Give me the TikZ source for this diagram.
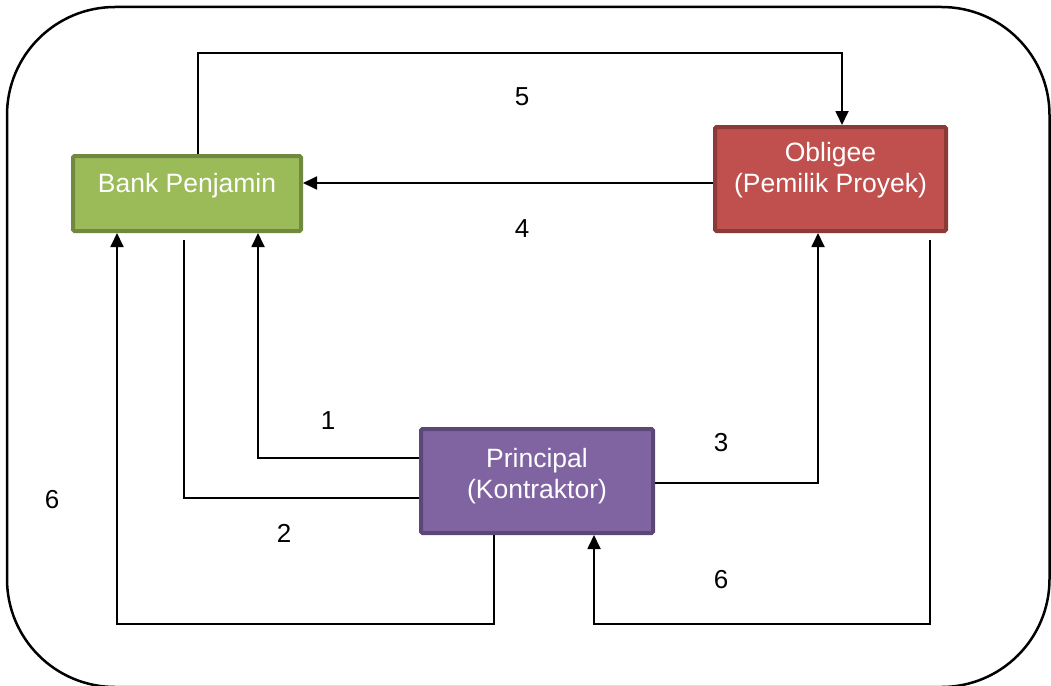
\documentclass[tikz,border=0pt]{standalone}
\usepackage{fontspec}
\setmainfont{Liberation Sans}
\usetikzlibrary{arrows.meta}
\definecolor{bankfill}{HTML}{9BBB59}
\definecolor{bankline}{HTML}{71893F}
\definecolor{oblfill}{HTML}{C0504D}
\definecolor{oblline}{HTML}{8C3A38}
\definecolor{prinfill}{HTML}{8064A2}
\definecolor{prinline}{HTML}{5C4876}
\tikzset{
  party/.style={draw, line width=4pt, rounded corners=1.5pt, inner sep=0pt},
  boxtext/.style={text=white, font=\fontsize{26.5}{31}\selectfont, align=center, inner sep=0pt},
  num/.style={font=\fontsize{26}{30}\selectfont, inner sep=0pt},
  link/.style={line width=1.8pt},
  arr/.style={link, -{Triangle[length=14pt,width=13pt]}}
}
\begin{document}
\begin{tikzpicture}[x=1pt,y=-1pt]
\useasboundingbox (0,0) rectangle (1051,685);
% outer frame
\draw[line width=2.5pt, rounded corners=108pt] (7,7) rectangle (1049.5,687);

% parties
\node[party, fill=bankfill, draw=bankline, minimum width=228pt, minimum height=75pt] (bank) at (187,193.5) {};
\node[party, fill=oblfill, draw=oblline, minimum width=231pt, minimum height=104pt] (obl) at (830.5,179) {};
\node[party, fill=prinfill, draw=prinline, minimum width=232pt, minimum height=104pt] (prin) at (537,481) {};

\node[boxtext] (bankT) at (187,186) {Bank Penjamin};
\node[boxtext] (oblT) at (830.5,170.5) {Obligee\\(Pemilik Proyek)};
\node[boxtext] (prinT) at (537,476) {Principal\\(Kontraktor)};

% routing points
\coordinate (c5) at (198,53);
\coordinate (d5) at (842,53);
\coordinate (c4) at (0,183);
\coordinate (c1) at (258,458);
\coordinate (c2) at (184,498);
\coordinate (c3) at (818,483);
\coordinate (c6a) at (494,624);
\coordinate (c6b) at (117,624);
\coordinate (c6c) at (930,624);
\coordinate (c6d) at (594,624);

% connectors
\draw[arr] (bank.north -| c5) -- (c5) -- (d5) -- (obl.north -| d5);
\draw[arr] (obl.west |- c4) -- (bank.east |- c4);
\draw[arr] (prin.west |- c1) -- (c1) -- (bank.south -| c1);
\draw[link] ([yshift=-7pt]bank.south -| c2) -- (c2) -- (prin.west |- c2);
\draw[arr] (prin.east |- c3) -- (c3) -- (obl.south -| c3);
\draw[arr] (prin.south -| c6a) -- (c6a) -- (c6b) -- (bank.south -| c6b);
\draw[arr] ([yshift=-7pt]obl.south -| c6c) -- (c6c) -- (c6d) -- (prin.south -| c6d);

% step numbers
\node[num] (n5) at (522,97) {5};
\node[num] (n4) at (522,229) {4};
\node[num] (n1) at (328,421) {1};
\node[num] (n2) at (284,533) {2};
\node[num] (n3) at (721,443) {3};
\node[num] (n6a) at (52,500) {6};
\node[num] (n6b) at (721,580) {6};
\end{tikzpicture}
\end{document}
